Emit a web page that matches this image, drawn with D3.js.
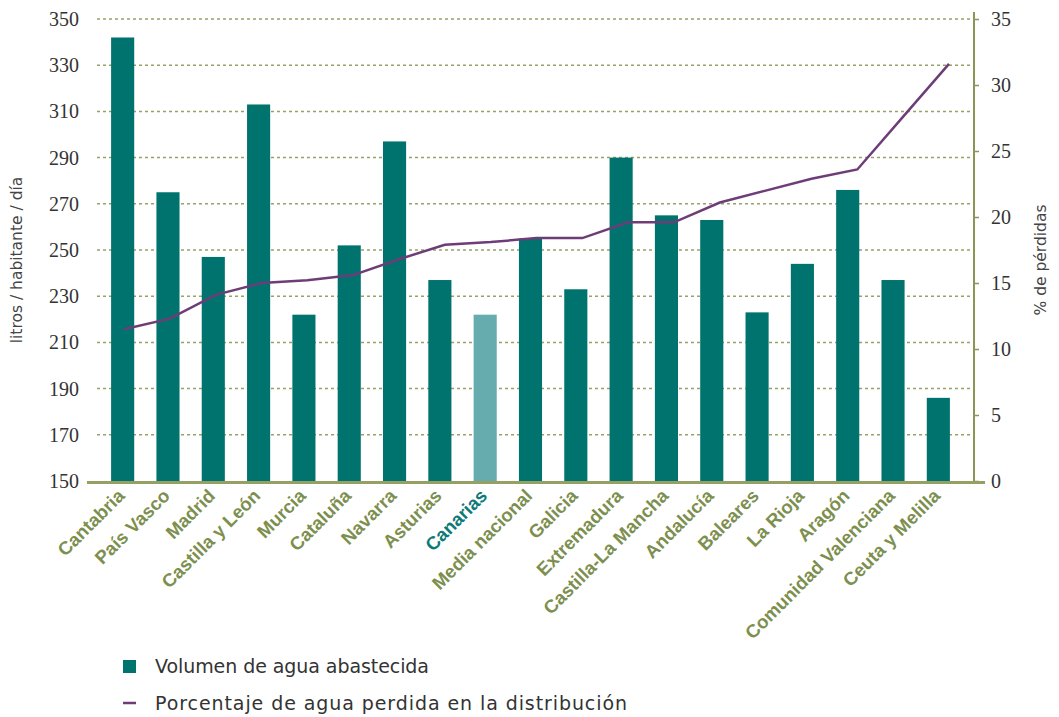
<!DOCTYPE html>
<html><head><meta charset="utf-8">
<script src="https://cdn.jsdelivr.net/npm/d3@7/dist/d3.min.js"></script>
<style>body{margin:0;background:#fff}</style>
</head><body>
<svg id="c" width="1059" height="717"></svg>
<script>
const categories = ["Cantabria","País Vasco","Madrid","Castilla y León","Murcia","Cataluña","Navarra","Asturias","Canarias","Media nacional","Galicia","Extremadura","Castilla-La Mancha","Andalucía","Baleares","La Rioja","Aragón","Comunidad Valenciana","Ceuta y Melilla"];
const volumen = [342,275,247,313,222,252,297,237,222,255,233,290,265,263,223,244,276,237,186];
const perdidas = [11.5,12.3,14.1,15.0,15.2,15.6,16.8,17.9,18.1,18.4,18.4,19.6,19.6,21.1,22.0,22.9,23.6,27.6,31.6];
const leftTicks = [150,170,190,210,230,250,270,290,310,330,350];
const rightTicks = [0,5,10,15,20,25,30,35];
const highlight = "Canarias";

const svg = d3.select("#c");
const olive = "#8a9655", teal = "#00736f", tealLight = "#66abae", purple = "#6e3d78";
const numFont = "'Liberation Serif', serif";

const yL = d3.scaleLinear().domain([150,350]).range([481,19]);
const yR = d3.scaleLinear().domain([0,35]).range([481,19]);
const x = d3.scaleBand().domain(categories).range([100,961]).paddingInner(0.49).paddingOuter(0.245);
const xl = d3.scalePoint().domain(categories).range([124,949]);

// grid
svg.append("g").selectAll("line").data(leftTicks.slice(1)).join("line")
  .attr("x1",97).attr("x2",974).attr("y1",d=>yL(d)).attr("y2",d=>yL(d))
  .attr("stroke","#97a168").attr("stroke-width",1.5).attr("stroke-dasharray","3,3");

// bars
svg.append("g").selectAll("rect").data(categories).join("rect")
  .attr("x",d=>x(d)).attr("width",x.bandwidth())
  .attr("y",(d,i)=>yL(volumen[i])).attr("height",(d,i)=>yL(150)-yL(volumen[i]))
  .attr("fill",d=>d===highlight?tealLight:teal);

// line
svg.append("path").datum(perdidas)
  .attr("d",d3.line().x((d,i)=>xl(categories[i])).y(d=>yR(d)))
  .attr("fill","none").attr("stroke",purple).attr("stroke-width",2.5);

// left axis labels
const gl = svg.append("g");
gl.selectAll("text").data(leftTicks).join("text")
  .attr("x",79).attr("y",d=>yL(d)).attr("dy","0.35em").attr("text-anchor","end")
  .attr("font-family",numFont).attr("font-size",20).attr("fill","#333").text(d=>d);

// right axis
const gr = svg.append("g").attr("transform","translate(974,0)");
gr.call(d3.axisRight(yR).tickValues(rightTicks).tickSize(5).tickPadding(12));
gr.select(".domain").attr("stroke",olive).attr("stroke-width",2).attr("d","M0,12V481");
gr.selectAll(".tick line").attr("stroke",olive).attr("stroke-width",1.5);
gr.selectAll(".tick text").attr("font-family",numFont).attr("font-size",20).attr("fill","#333");

// bottom axis line
svg.append("line").attr("x1",87).attr("x2",985).attr("y1",482.5).attr("y2",482.5)
  .attr("stroke","#96a064").attr("stroke-width",3);

// x labels
svg.append("g").selectAll("text").data(categories).join("text")
  .attr("transform",d=>`translate(${x(d)+x.bandwidth()/2+3},${497}) rotate(-45)`)
  .attr("text-anchor","end")
  .attr("font-family","'Liberation Sans', Arial, sans-serif").attr("font-weight","bold").attr("font-size",18.5)
  .attr("fill",d=>d===highlight?"#0d7a78":"#7d8f4f").text(d=>d);

// axis titles
svg.append("text").attr("transform","translate(22,260) rotate(-90)").attr("text-anchor","middle")
  .attr("font-family","'DejaVu Sans', sans-serif").attr("font-size",15.5).attr("fill","#444")
  .text("litros / habitante / día");
svg.append("text").attr("transform","translate(1046,260) rotate(-90)").attr("text-anchor","middle")
  .attr("font-family","'DejaVu Sans', sans-serif").attr("font-size",15.5).attr("fill","#444")
  .text("% de pérdidas");

// legend
const lg = svg.append("g");
lg.append("rect").attr("x",123).attr("y",660).attr("width",13).attr("height",13).attr("fill",teal);
lg.append("text").attr("x",155).attr("y",673).attr("font-family","'DejaVu Sans', sans-serif")
  .attr("font-size",19).attr("fill","#333").attr("textLength",274).attr("lengthAdjust","spacing")
  .text("Volumen de agua abastecida");
lg.append("line").attr("x1",123).attr("x2",136).attr("y1",703).attr("y2",703).attr("stroke",purple).attr("stroke-width",2.5);
lg.append("text").attr("x",155).attr("y",710).attr("font-family","'DejaVu Sans', sans-serif")
  .attr("font-size",19).attr("fill","#333").attr("textLength",472).attr("lengthAdjust","spacing")
  .text("Porcentaje de agua perdida en la distribución");
</script>
</body></html>
